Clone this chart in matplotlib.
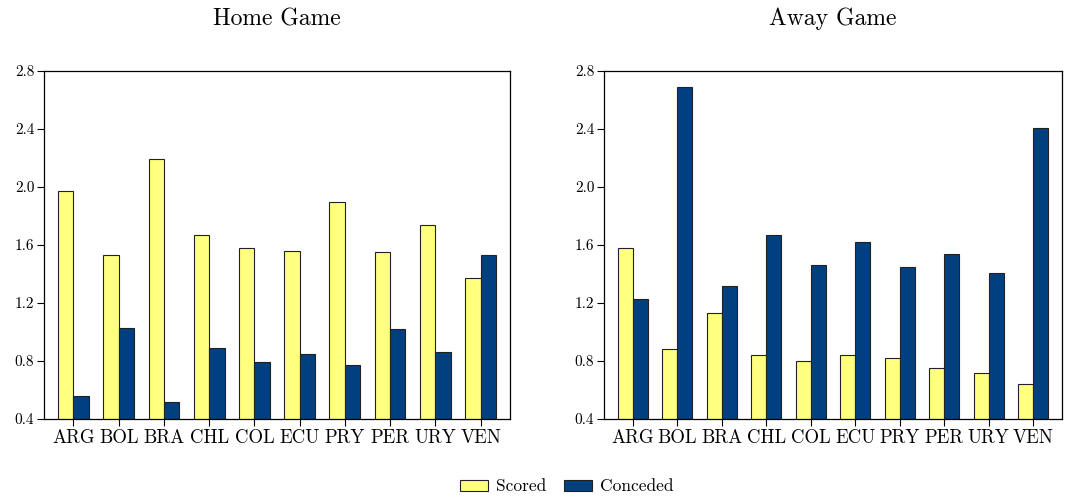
import matplotlib.pyplot as plt
import numpy as np

plt.rcParams['font.family'] = 'cmr10'
plt.rcParams['mathtext.fontset'] = 'cm'
plt.rcParams['axes.unicode_minus'] = False
plt.rcParams['axes.formatter.use_mathtext'] = True

# Goles promedio por partido
countries = ["ARG", "BOL", "BRA", "CHL", "COL", "ECU", "PRY", "PER", "URY", "VEN"]
home_scored = [1.97, 1.53, 2.19, 1.67, 1.58, 1.56, 1.90, 1.55, 1.74, 1.37]
home_conceded = [0.56, 1.03, 0.52, 0.89, 0.79, 0.85, 0.77, 1.02, 0.86, 1.53]
away_scored = [1.58, 0.88, 1.13, 0.84, 0.80, 0.84, 0.82, 0.75, 0.72, 0.64]
away_conceded = [1.23, 2.69, 1.32, 1.67, 1.46, 1.62, 1.45, 1.54, 1.41, 2.41]

YELLOW = "#FFFF80"
BLUE = "#004080"
EDGE = "#222222"
width = 0.34


def draw_panel(ax, scored, conceded, title):
    x = np.arange(len(countries))
    ax.bar(x - width / 2, scored, width, bottom=0, color=YELLOW,
           edgecolor=EDGE, linewidth=0.8, label="Scored")
    ax.bar(x + width / 2, conceded, width, bottom=0, color=BLUE,
           edgecolor=EDGE, linewidth=0.8, label="Conceded")
    ax.set_xlim(-0.65, len(countries) - 0.35)
    ax.set_ylim(0.4, 2.8)
    ax.set_yticks([0.4, 0.8, 1.2, 1.6, 2.0, 2.4, 2.8])
    ax.set_yticklabels(["0.4", "0.8", "1.2", "1.6", "2.0", "2.4", "2.8"])
    ax.set_xticks(x)
    ax.set_xticklabels(countries, fontsize=13.5)
    ax.tick_params(axis='y', labelsize=11, direction='out', length=5, pad=2)
    ax.tick_params(axis='x', direction='out', length=5, pad=2)
    ax.set_title(title, fontsize=17, pad=33)
    for s in ax.spines.values():
        s.set_linewidth(0.9)


fig = plt.figure(figsize=(10.82, 5.0), dpi=100)
ax1 = fig.add_axes([44 / 1082, 81 / 500, 466 / 1082, 348 / 500])
ax2 = fig.add_axes([604 / 1082, 81 / 500, 458 / 1082, 348 / 500])

draw_panel(ax1, home_scored, home_conceded, "Home Game")
draw_panel(ax2, away_scored, away_conceded, "Away Game")

handles, labels = ax1.get_legend_handles_labels()
fig.legend(handles, labels, loc='lower center', bbox_to_anchor=(0.524, -0.02),
           ncol=2, frameon=False, fontsize=12.5, handlelength=1.6,
           handleheight=0.6, columnspacing=1.0, handletextpad=0.5)

fig.savefig("out.png", dpi=100, facecolor='white')
